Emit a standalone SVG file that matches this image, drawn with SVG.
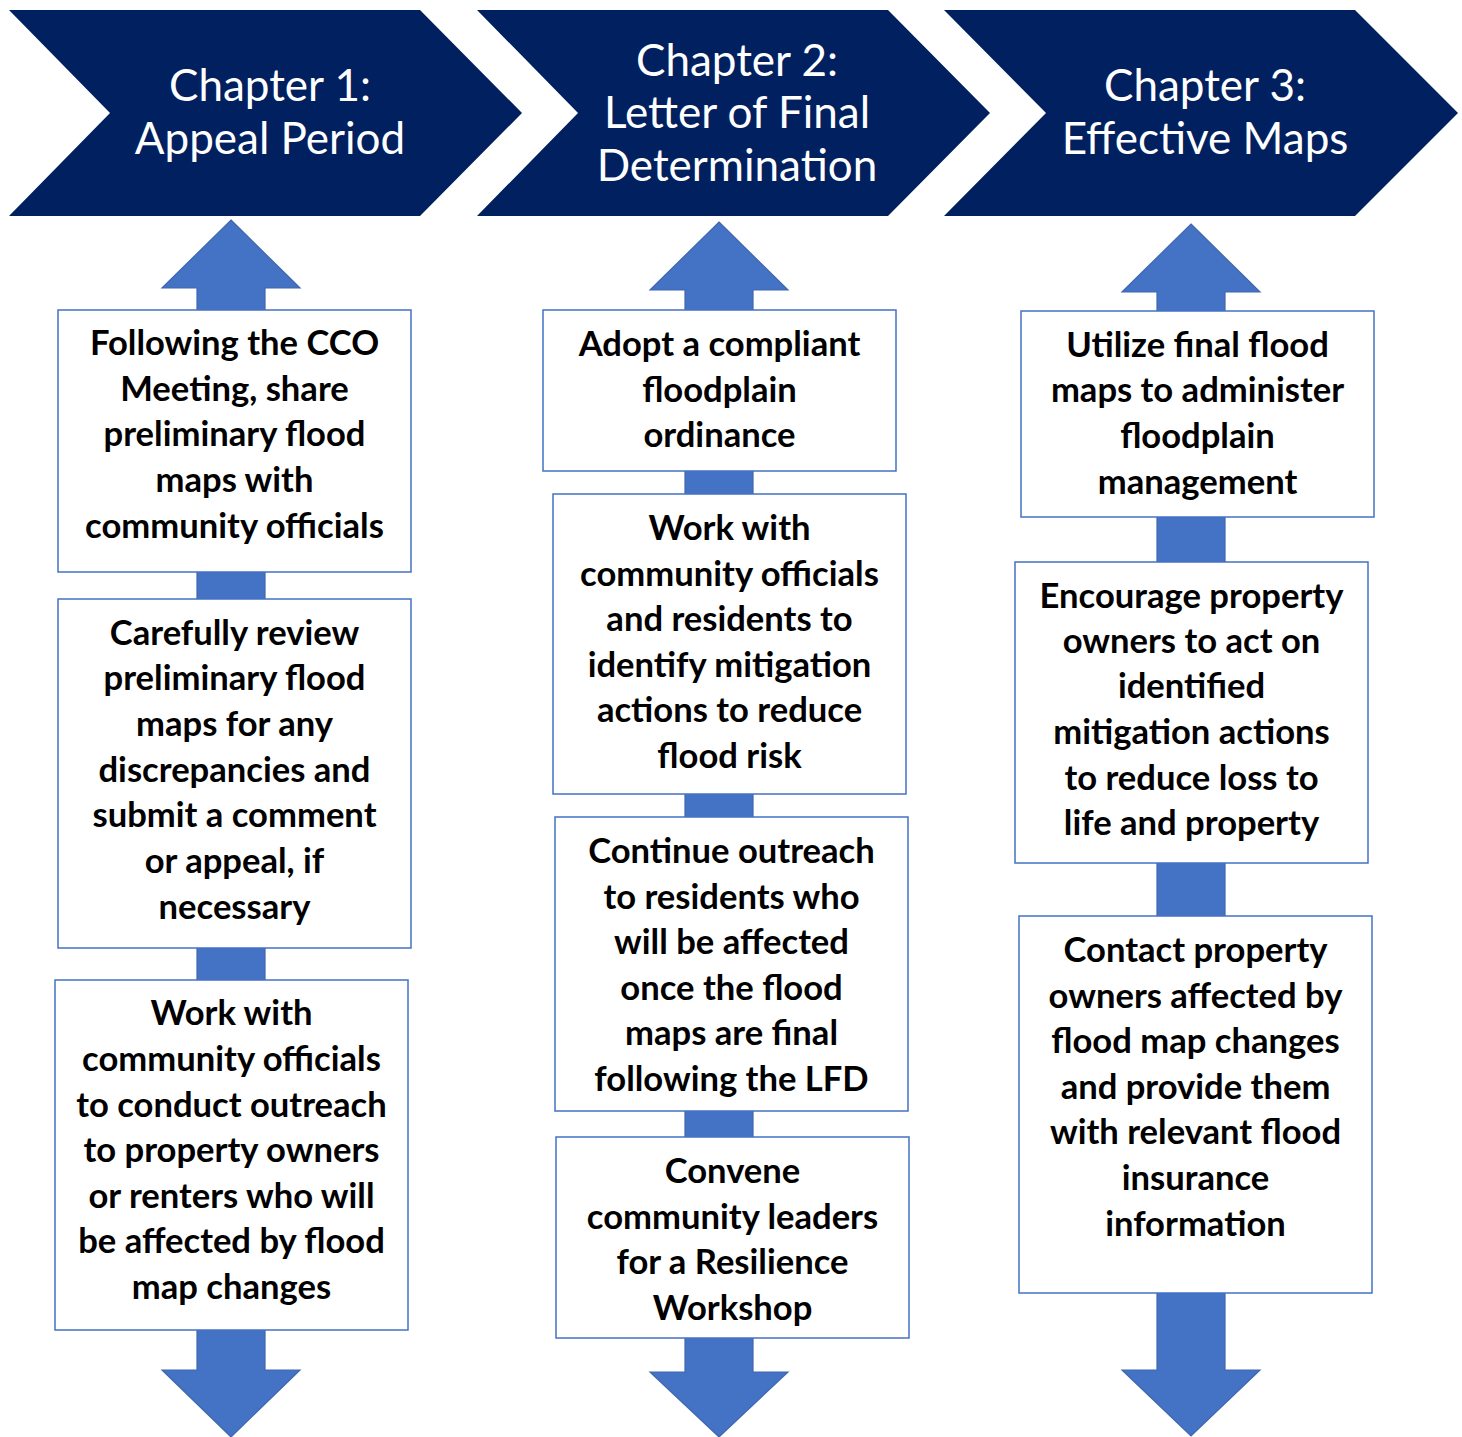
<svg xmlns="http://www.w3.org/2000/svg" width="1462" height="1437" viewBox="0 0 1462 1437">
<style>
.chev{fill:#002060;}
.ht{font-family:Lato,"Open Sans","Liberation Sans",sans-serif;font-size:44px;fill:#ffffff;text-anchor:middle;}
.arrow{fill:#4472C4;stroke:#3F67AE;stroke-width:1.2;}
.box{fill:#ffffff;stroke:#4472C4;stroke-width:1.5;}
.bt{font-family:Lato,"Open Sans","Liberation Sans",sans-serif;font-weight:bold;font-size:34.6px;fill:#000000;text-anchor:middle;}
</style>
<rect width="1462" height="1437" fill="#ffffff"/>

<g id="chapter1">
<polygon class="chev" points="9,10 420,10 522,113 420,216 9,216 110,113"/>
<text class="ht" x="270" y="101">Chapter 1:</text>
<text class="ht" x="270" y="154">Appeal Period</text>
</g>
<g id="chapter2">
<polygon class="chev" points="477,10 888,10 990,113 888,216 477,216 578,113"/>
<text class="ht" x="737" y="76">Chapter 2:</text>
<text class="ht" x="737" y="128">Letter of Final</text>
<text class="ht" x="737" y="181">Determination</text>
</g>
<g id="chapter3">
<polygon class="chev" points="944,10 1355,10 1458,113 1355,216 944,216 1046,113"/>
<text class="ht" x="1205" y="101">Chapter 3:</text>
<text class="ht" x="1205" y="154">Effective Maps</text>
</g>

<g id="connectors">
<path class="arrow" d="M231,220 L300,288 L265,288 L265,1370 L300,1370 L231,1437 L162,1370 L197,1370 L197,288 L162,288 Z"/>
<path class="arrow" d="M719,222 L788,290 L753,290 L753,1372 L788,1372 L719,1437 L650,1372 L685,1372 L685,290 L650,290 Z"/>
<path class="arrow" d="M1191,224 L1260,292 L1225,292 L1225,1370 L1260,1370 L1191,1436 L1122,1370 L1157,1370 L1157,292 L1122,292 Z"/>
</g>

<g id="box-a">
<rect class="box" x="58" y="310" width="353" height="262"/>
<text class="bt" x="234.5" y="355">Following the CCO</text>
<text class="bt" x="234.5" y="401">Meeting, share</text>
<text class="bt" x="234.5" y="446">preliminary flood</text>
<text class="bt" x="234.5" y="492">maps with</text>
<text class="bt" x="234.5" y="538">community officials</text>
</g>
<g id="box-b">
<rect class="box" x="58" y="599" width="353" height="349"/>
<text class="bt" x="234.5" y="645">Carefully review</text>
<text class="bt" x="234.5" y="690">preliminary flood</text>
<text class="bt" x="234.5" y="736">maps for any</text>
<text class="bt" x="234.5" y="782">discrepancies and</text>
<text class="bt" x="234.5" y="827">submit a comment</text>
<text class="bt" x="234.5" y="873">or appeal, if</text>
<text class="bt" x="234.5" y="919">necessary</text>
</g>
<g id="box-c">
<rect class="box" x="55" y="980" width="353" height="350"/>
<text class="bt" x="231.5" y="1025">Work with</text>
<text class="bt" x="231.5" y="1071">community officials</text>
<text class="bt" x="231.5" y="1117">to conduct outreach</text>
<text class="bt" x="231.5" y="1162">to property owners</text>
<text class="bt" x="231.5" y="1208">or renters who will</text>
<text class="bt" x="231.5" y="1253">be affected by flood</text>
<text class="bt" x="231.5" y="1299">map changes</text>
</g>

<g id="box-d">
<rect class="box" x="543" y="310" width="353" height="161"/>
<text class="bt" x="719.5" y="356">Adopt a compliant</text>
<text class="bt" x="719.5" y="402">floodplain</text>
<text class="bt" x="719.5" y="447">ordinance</text>
</g>
<g id="box-e">
<rect class="box" x="553" y="494" width="353" height="300"/>
<text class="bt" x="729.5" y="540">Work with</text>
<text class="bt" x="729.5" y="586">community officials</text>
<text class="bt" x="729.5" y="631">and residents to</text>
<text class="bt" x="729.5" y="677">identify mitigation</text>
<text class="bt" x="729.5" y="722">actions to reduce</text>
<text class="bt" x="729.5" y="768">flood risk</text>
</g>
<g id="box-f">
<rect class="box" x="555" y="817" width="353" height="294"/>
<text class="bt" x="731.5" y="863">Continue outreach</text>
<text class="bt" x="731.5" y="909">to residents who</text>
<text class="bt" x="731.5" y="954">will be affected</text>
<text class="bt" x="731.5" y="1000">once the flood</text>
<text class="bt" x="731.5" y="1045">maps are final</text>
<text class="bt" x="731.5" y="1091">following the LFD</text>
</g>
<g id="box-g">
<rect class="box" x="556" y="1137" width="353" height="201"/>
<text class="bt" x="732.5" y="1183">Convene</text>
<text class="bt" x="732.5" y="1229">community leaders</text>
<text class="bt" x="732.5" y="1274">for a Resilience</text>
<text class="bt" x="732.5" y="1320">Workshop</text>
</g>

<g id="box-h">
<rect class="box" x="1021" y="311" width="353" height="206"/>
<text class="bt" x="1197.5" y="357">Utilize final flood</text>
<text class="bt" x="1197.5" y="402">maps to administer</text>
<text class="bt" x="1197.5" y="448">floodplain</text>
<text class="bt" x="1197.5" y="494">management</text>
</g>
<g id="box-i">
<rect class="box" x="1015" y="562" width="353" height="301"/>
<text class="bt" x="1191.5" y="608">Encourage property</text>
<text class="bt" x="1191.5" y="653">owners to act on</text>
<text class="bt" x="1191.5" y="698">identified</text>
<text class="bt" x="1191.5" y="744">mitigation actions</text>
<text class="bt" x="1191.5" y="790">to reduce loss to</text>
<text class="bt" x="1191.5" y="835">life and property</text>
</g>
<g id="box-j">
<rect class="box" x="1019" y="916" width="353" height="377"/>
<text class="bt" x="1195.5" y="962">Contact property</text>
<text class="bt" x="1195.5" y="1008">owners affected by</text>
<text class="bt" x="1195.5" y="1053">flood map changes</text>
<text class="bt" x="1195.5" y="1099">and provide them</text>
<text class="bt" x="1195.5" y="1144">with relevant flood</text>
<text class="bt" x="1195.5" y="1190">insurance</text>
<text class="bt" x="1195.5" y="1236">information</text>
</g>
</svg>
